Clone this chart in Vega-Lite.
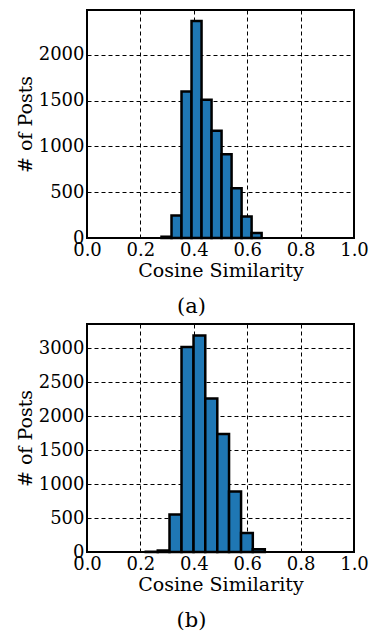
{
  "$schema": "https://vega.github.io/schema/vega-lite/v6.json",
  "padding": {"left": 15, "top": 9, "right": 0, "bottom": 0},
  "spacing": 5,
  "config": {
    "font": "DejaVu Serif",
    "view": {"stroke": "black", "strokeWidth": 2},
    "axis": {
      "labelFont": "DejaVu Serif", "labelFontSize": 18, "labelColor": "black",
      "titleFont": "DejaVu Serif", "titleFontSize": 19, "titleFontWeight": "normal", "titleColor": "black",
      "grid": true, "gridColor": "black", "gridDash": [4, 3], "gridWidth": 1, "gridOpacity": 1,
      "domain": false, "ticks": false, "zindex": 1,
      "labelFlush": false, "labelOverlap": false, "labelBound": false
    },
    "axisX": {"labelPadding": 3, "titlePadding": 2},
    "axisY": {"labelPadding": 3, "titlePadding": 3}
  },
  "datasets": {
    "a": [
      {"bin_start": 0.279, "bin_end": 0.3165, "count": 14},
      {"bin_start": 0.3165, "bin_end": 0.354, "count": 245},
      {"bin_start": 0.354, "bin_end": 0.3915, "count": 1600},
      {"bin_start": 0.3915, "bin_end": 0.429, "count": 2370},
      {"bin_start": 0.429, "bin_end": 0.4665, "count": 1509},
      {"bin_start": 0.4665, "bin_end": 0.504, "count": 1171},
      {"bin_start": 0.504, "bin_end": 0.5415, "count": 916},
      {"bin_start": 0.5415, "bin_end": 0.579, "count": 542},
      {"bin_start": 0.579, "bin_end": 0.6165, "count": 236},
      {"bin_start": 0.6165, "bin_end": 0.654, "count": 55}
    ],
    "b": [
      {"bin_start": 0.220, "bin_end": 0.265, "count": 5},
      {"bin_start": 0.265, "bin_end": 0.309, "count": 22},
      {"bin_start": 0.309, "bin_end": 0.354, "count": 554},
      {"bin_start": 0.354, "bin_end": 0.399, "count": 3020},
      {"bin_start": 0.399, "bin_end": 0.443, "count": 3190},
      {"bin_start": 0.443, "bin_end": 0.488, "count": 2262},
      {"bin_start": 0.488, "bin_end": 0.532, "count": 1740},
      {"bin_start": 0.532, "bin_end": 0.577, "count": 892},
      {"bin_start": 0.577, "bin_end": 0.621, "count": 279},
      {"bin_start": 0.621, "bin_end": 0.666, "count": 40}
    ]
  },
  "vconcat": [
    {
      "width": 267, "height": 228,
      "title": {"text": "(a)", "orient": "bottom", "anchor": "middle", "offset": 16, "dx": -29, "font": "DejaVu Serif", "fontSize": 21, "fontWeight": "normal", "color": "black"},
      "data": {"name": "a"},
      "mark": {"type": "bar", "fill": "#1f77b4", "stroke": "black", "strokeWidth": 2.5},
      "encoding": {
        "x": {"field": "bin_start", "type": "quantitative", "scale": {"domain": [0, 1], "nice": false, "zero": false},
              "axis": {"title": "Cosine Similarity", "values": [0, 0.2, 0.4, 0.6, 0.8, 1.0], "format": ".1f"}},
        "x2": {"field": "bin_end"},
        "y": {"field": "count", "type": "quantitative", "scale": {"domain": [0, 2490], "nice": false},
              "axis": {"title": "# of Posts", "values": [0, 500, 1000, 1500, 2000], "format": "d"}},
        "y2": {"datum": 0}
      }
    },
    {
      "width": 267, "height": 228,
      "title": {"text": "(b)", "orient": "bottom", "anchor": "middle", "offset": 16, "dx": -29, "font": "DejaVu Serif", "fontSize": 21, "fontWeight": "normal", "color": "black"},
      "data": {"name": "b"},
      "mark": {"type": "bar", "fill": "#1f77b4", "stroke": "black", "strokeWidth": 2.5},
      "encoding": {
        "x": {"field": "bin_start", "type": "quantitative", "scale": {"domain": [0, 1], "nice": false, "zero": false},
              "axis": {"title": "Cosine Similarity", "values": [0, 0.2, 0.4, 0.6, 0.8, 1.0], "format": ".1f"}},
        "x2": {"field": "bin_end"},
        "y": {"field": "count", "type": "quantitative", "scale": {"domain": [0, 3360], "nice": false},
              "axis": {"title": "# of Posts", "values": [0, 500, 1000, 1500, 2000, 2500, 3000], "format": "d"}},
        "y2": {"datum": 0}
      }
    }
  ]
}
